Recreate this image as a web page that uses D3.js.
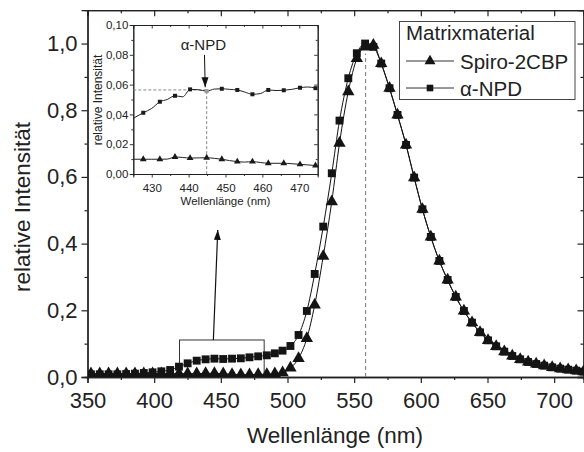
<!DOCTYPE html>
<html>
<head>
<meta charset="utf-8">
<script src="https://cdn.jsdelivr.net/npm/d3@7"></script>
<style>
body { margin: 0; background: #fff; }
text { font-family: "Liberation Sans", Arial, sans-serif; fill: #222; }
</style>
</head>
<body>
<script>
// main spectra (wavelength in nm, normalised intensity)
var wavelengths = [352.6, 359.2, 365.8, 372.4, 379.0, 385.6, 392.2, 398.8, 405.4, 412.0,
    418.6, 425.1, 431.9, 438.6, 445.2, 451.8, 458.4, 465.0, 471.5, 478.0,
    484.5, 490.5, 496.3, 502.2, 508.3, 514.5, 520.4, 526.8, 533.2, 539.0,
    545.6, 552.0, 558.2, 564.4, 570.3, 576.5, 582.5, 588.9, 595.0, 601.2,
    607.5, 613.9, 620.1, 626.2, 632.3, 638.4, 644.4, 650.4, 656.5, 662.6,
    668.6, 674.5, 680.5, 686.5, 692.5, 698.5, 704.5, 710.5, 716.5, 722.0];

var spiro2CBP = [0.010, 0.010, 0.010, 0.010, 0.010, 0.010, 0.010, 0.010, 0.010, 0.010,
    0.010, 0.010, 0.010, 0.011, 0.011, 0.010, 0.008, 0.007, 0.007, 0.008,
    0.008, 0.010, 0.013, 0.027, 0.056, 0.116, 0.216, 0.362, 0.526, 0.701,
    0.856, 0.955, 0.990, 0.995, 0.940, 0.866, 0.786, 0.696, 0.598, 0.503,
    0.420, 0.348, 0.291, 0.240, 0.198, 0.163, 0.134, 0.110, 0.092, 0.076,
    0.063, 0.053, 0.045, 0.039, 0.034, 0.029, 0.025, 0.022, 0.019, 0.016];

var alphaNPD = [0.008, 0.008, 0.008, 0.008, 0.009, 0.010, 0.012, 0.014, 0.017, 0.021,
    0.031, 0.041, 0.049, 0.053, 0.055, 0.054, 0.055, 0.056, 0.059, 0.062,
    0.065, 0.071, 0.079, 0.093, 0.126, 0.198, 0.309, 0.451, 0.611, 0.769,
    0.896, 0.971, 1.000, 0.990, 0.940, 0.866, 0.786, 0.696, 0.598, 0.503,
    0.420, 0.348, 0.291, 0.240, 0.198, 0.163, 0.134, 0.110, 0.092, 0.076,
    0.063, 0.053, 0.045, 0.039, 0.034, 0.029, 0.025, 0.022, 0.019, 0.016];

var xTicks = [350, 400, 450, 500, 550, 600, 650, 700];
var yTicks = [0, 0.2, 0.4, 0.6, 0.8, 1.0];

// inset 425-475 nm, markers on every second point
var insetWavelengths = [425.0, 427.7, 430.0, 432.2, 434.2, 436.3, 438.4, 440.4, 442.6, 444.9,
    447.0, 449.0, 451.1, 453.2, 455.2, 457.3, 459.5, 461.6, 463.7, 465.8,
    468.0, 470.2, 472.3, 474.4];
var insetNPD = [0.0374, 0.0411, 0.0440, 0.0485, 0.0500, 0.0525, 0.0518, 0.0568, 0.0566, 0.0556,
    0.0570, 0.0572, 0.0568, 0.0564, 0.0550, 0.0535, 0.0540, 0.0564, 0.0560, 0.0562,
    0.0568, 0.0579, 0.0584, 0.0576];
var insetSpiro = [0.0099, 0.0099, 0.0099, 0.0099, 0.0100, 0.0114, 0.0111, 0.0107, 0.0108, 0.0109,
    0.0105, 0.0099, 0.0090, 0.0083, 0.0080, 0.0083, 0.0077, 0.0072, 0.0072, 0.0072,
    0.0069, 0.0065, 0.0061, 0.0057];
var insetXTicks = [430, 440, 450, 460, 470];
var insetYTicks = [0, 0.02, 0.04, 0.06, 0.08, 0.10];

var width = 584, height = 452;

var svg = d3.select("body").append("svg")
    .attr("width", width)
    .attr("height", height);

var defs = svg.append("defs");
defs.append("clipPath").attr("id", "plotClip")
    .append("rect").attr("x", 88).attr("y", 10).attr("width", 496).attr("height", 367);
defs.append("marker")
    .attr("id", "arrow")
    .attr("viewBox", "0 0 10 10")
    .attr("refX", 10).attr("refY", 5)
    .attr("markerWidth", 10).attr("markerHeight", 10)
    .attr("markerUnits", "userSpaceOnUse")
    .attr("orient", "auto")
    .append("path").attr("d", "M0,1.5L10,5L0,8.5Z").attr("fill", "#111");

var x = d3.scaleLinear().domain([350, 722]).range([87.5, 583.5]);
var y = d3.scaleLinear().domain([0, 1.1]).range([377, 10.2]);

var comma = function (f) { return function (d) { return d3.format(f)(d).replace(".", ","); }; };

// minor ticks first
svg.append("g").attr("class", "axis")
    .attr("transform", "translate(0,377)")
    .call(d3.axisBottom(x).tickValues(d3.range(375, 722, 50)).tickSize(3).tickFormat(""));
svg.append("g").attr("class", "axis")
    .attr("transform", "translate(87.5,0)")
    .call(d3.axisLeft(y).tickValues([0.1, 0.3, 0.5, 0.7, 0.9]).tickSize(3).tickFormat(""));
svg.append("g").attr("class", "axis")
    .attr("transform", "translate(0,10.2)")
    .call(d3.axisBottom(x).tickValues(d3.range(375, 722, 50)).tickSize(3).tickFormat(""));
svg.append("g").attr("class", "axis")
    .attr("transform", "translate(583.5,0)")
    .call(d3.axisLeft(y).tickValues([0.1, 0.3, 0.5, 0.7, 0.9]).tickSize(3).tickFormat(""));

// major ticks
svg.append("g").attr("class", "axis xmain")
    .attr("transform", "translate(0,377)")
    .call(d3.axisBottom(x).tickValues(xTicks).tickSize(6).tickPadding(9).tickFormat(d3.format("d")));
svg.append("g").attr("class", "axis ymain")
    .attr("transform", "translate(87.5,0)")
    .call(d3.axisLeft(y).tickValues(yTicks).tickSize(6).tickPadding(4).tickFormat(comma(".1f")));
svg.append("g").attr("class", "axis")
    .attr("transform", "translate(0,10.2)")
    .call(d3.axisBottom(x).tickValues(xTicks).tickSize(6).tickFormat(""));
svg.append("g").attr("class", "axis")
    .attr("transform", "translate(583.5,0)")
    .call(d3.axisLeft(y).tickValues(yTicks).tickSize(6).tickFormat(""));

svg.selectAll(".axis .domain").attr("stroke", "#222").attr("stroke-width", 1.3);
svg.selectAll(".axis .tick line").attr("stroke", "#222").attr("stroke-width", 1.2);
svg.selectAll(".xmain text, .ymain text")
    .style("font-size", "22px").attr("fill", "#222")
    .style("font-family", "'Liberation Sans', Arial, sans-serif");

// axis titles
svg.append("text")
    .attr("transform", "translate(30,207) rotate(-90)")
    .attr("text-anchor", "middle")
    .style("font-size", "22.5px")
    .text("relative Intensität");
svg.append("text")
    .attr("x", 335).attr("y", 443)
    .attr("text-anchor", "middle")
    .style("font-size", "22.5px")
    .text("Wellenlänge (nm)");

// peak marker line
svg.append("line")
    .attr("x1", x(558.6)).attr("x2", x(558.6))
    .attr("y1", y(0)).attr("y2", y(0.97))
    .attr("stroke", "#777").attr("stroke-width", 1)
    .attr("stroke-dasharray", "4,3");

// zoom box and arrow
svg.append("rect")
    .attr("x", x(419)).attr("y", y(0.111))
    .attr("width", x(482.5) - x(419)).attr("height", y(0) - y(0.111))
    .attr("fill", "none").attr("stroke", "#333").attr("stroke-width", 1);
svg.append("line")
    .attr("x1", x(444.4)).attr("y1", y(0.111))
    .attr("x2", x(447.7)).attr("y2", y(0.441))
    .attr("stroke", "#111").attr("stroke-width", 1.2)
    .attr("marker-end", "url(#arrow)");

// curves
var plot = svg.append("g").attr("clip-path", "url(#plotClip)");
var mainLine = d3.line()
    .x(function (d) { return x(d[0]); })
    .y(function (d) { return y(d[1]); })
    .curve(d3.curveMonotoneX);

var spiroData = wavelengths.map(function (w, i) { return [w, spiro2CBP[i]]; });
var npdData = wavelengths.map(function (w, i) { return [w, alphaNPD[i]]; });

plot.append("path").datum(spiroData).attr("d", mainLine)
    .attr("fill", "none").attr("stroke", "#111").attr("stroke-width", 1);
plot.append("path").datum(npdData).attr("d", mainLine)
    .attr("fill", "none").attr("stroke", "#111").attr("stroke-width", 1);

var sq = d3.symbol().type(d3.symbolSquare).size(62);
var tri = d3.symbol().type(d3.symbolTriangle).size(66);

plot.selectAll(".npd").data(npdData).enter().append("path")
    .attr("class", "npd")
    .attr("d", sq)
    .attr("transform", function (d) { return "translate(" + x(d[0]) + "," + y(d[1]) + ")"; })
    .attr("fill", "#141414");
plot.selectAll(".spiro").data(spiroData).enter().append("path")
    .attr("class", "spiro")
    .attr("d", tri)
    .attr("transform", function (d) { return "translate(" + x(d[0]) + "," + y(d[1]) + ")"; })
    .attr("fill", "#141414");

// legend
var legend = svg.append("g");
legend.append("rect")
    .attr("x", 399.5).attr("y", 21.5).attr("width", 175.5).attr("height", 78)
    .attr("fill", "#fff").attr("stroke", "#444").attr("stroke-width", 1);
legend.append("text").attr("x", 406).attr("y", 39.5)
    .style("font-size", "20.5px").text("Matrixmaterial");
var legendItems = [
    { name: "Spiro-2CBP", sym: d3.symbol().type(d3.symbolTriangle).size(52), y: 61 },
    { name: "\u03b1-NPD", sym: d3.symbol().type(d3.symbolSquare).size(44), y: 88 }
];
legendItems.forEach(function (it) {
    legend.append("line").attr("x1", 406).attr("x2", 454)
        .attr("y1", it.y).attr("y2", it.y)
        .attr("stroke", "#333").attr("stroke-width", 1);
    legend.append("path").attr("d", it.sym())
        .attr("transform", "translate(430," + it.y + ")").attr("fill", "#141414");
    legend.append("text").attr("x", 460).attr("y", it.y + 7.5)
        .style("font-size", "20.5px").text(it.name);
});

// ---------- inset ----------
var ix = d3.scaleLinear().domain([425, 475]).range([133.3, 317.7]);
var iy = d3.scaleLinear().domain([0, 0.1]).range([174, 25]);

var inset = svg.append("g");
inset.append("rect")
    .attr("x", 133.3).attr("y", 25).attr("width", 184.4).attr("height", 149)
    .attr("fill", "#fff");

inset.append("g").attr("class", "iaxis").attr("transform", "translate(0,174)")
    .call(d3.axisBottom(ix).tickValues([435, 445, 455, 465]).tickSize(2).tickFormat(""));
inset.append("g").attr("class", "iaxis").attr("transform", "translate(133.3,0)")
    .call(d3.axisLeft(iy).tickValues([0.01, 0.03, 0.05, 0.07, 0.09]).tickSize(2).tickFormat(""));
inset.append("g").attr("class", "iaxis").attr("transform", "translate(0,25)")
    .call(d3.axisBottom(ix).tickValues([435, 445, 455, 465]).tickSize(2).tickFormat(""));
inset.append("g").attr("class", "iaxis").attr("transform", "translate(317.7,0)")
    .call(d3.axisLeft(iy).tickValues([0.01, 0.03, 0.05, 0.07, 0.09]).tickSize(2).tickFormat(""));

inset.append("g").attr("class", "iaxis ilab").attr("transform", "translate(0,174)")
    .call(d3.axisBottom(ix).tickValues(insetXTicks).tickSize(3.5).tickPadding(6).tickFormat(d3.format("d")));
inset.append("g").attr("class", "iaxis ilab").attr("transform", "translate(133.3,0)")
    .call(d3.axisLeft(iy).tickValues(insetYTicks).tickSize(3.5).tickPadding(1.5).tickFormat(comma(".2f")));
inset.append("g").attr("class", "iaxis").attr("transform", "translate(0,25)")
    .call(d3.axisBottom(ix).tickValues(insetXTicks).tickSize(3.5).tickFormat(""));
inset.append("g").attr("class", "iaxis").attr("transform", "translate(317.7,0)")
    .call(d3.axisLeft(iy).tickValues(insetYTicks).tickSize(3.5).tickFormat(""));

inset.selectAll(".iaxis .domain").attr("stroke", "#222").attr("stroke-width", 1);
inset.selectAll(".iaxis .tick line").attr("stroke", "#222").attr("stroke-width", 0.9);
inset.selectAll(".ilab text")
    .style("font-size", "11.5px").attr("fill", "#333")
    .style("font-family", "'Liberation Sans', Arial, sans-serif");

inset.append("text")
    .attr("transform", "translate(101.5,100) rotate(-90)")
    .attr("text-anchor", "middle")
    .style("font-size", "12px").attr("fill", "#333")
    .text("relative Intensität");
inset.append("text")
    .attr("x", 225.5).attr("y", 205)
    .attr("text-anchor", "middle")
    .style("font-size", "11.5px").attr("fill", "#333")
    .text("Wellenlänge (nm)");

// guide lines to the highlighted point
inset.append("line")
    .attr("x1", ix(425)).attr("x2", ix(444.9))
    .attr("y1", iy(0.0564)).attr("y2", iy(0.0564))
    .attr("stroke", "#888").attr("stroke-width", 1).attr("stroke-dasharray", "3,2");
inset.append("line")
    .attr("x1", ix(444.9)).attr("x2", ix(444.9))
    .attr("y1", iy(0.0556)).attr("y2", iy(0))
    .attr("stroke", "#888").attr("stroke-width", 1).attr("stroke-dasharray", "3,2");

var insetLine = d3.line()
    .x(function (d) { return ix(d[0]); })
    .y(function (d) { return iy(d[1]); })
    .curve(d3.curveMonotoneX);
var iNpd = insetWavelengths.map(function (w, i) { return [w, insetNPD[i], i]; });
var iSpiro = insetWavelengths.map(function (w, i) { return [w, insetSpiro[i], i]; });

[iNpd, iSpiro].forEach(function (ser) {
    inset.append("path").datum(ser).attr("d", insetLine)
        .attr("fill", "none").attr("stroke", "#222").attr("stroke-width", 1);
});

var isq = d3.symbol().type(d3.symbolSquare).size(16);
var itri = d3.symbol().type(d3.symbolTriangle).size(20);
inset.selectAll(".inpd").data(iNpd.filter(function (d) { return d[2] % 2 === 1; })).enter()
    .append("path").attr("class", "inpd")
    .attr("d", isq)
    .attr("transform", function (d) { return "translate(" + ix(d[0]) + "," + iy(d[1]) + ")"; })
    .attr("fill", function (d) { return d[2] === 9 ? "#999" : "#1a1a1a"; });
inset.selectAll(".ispiro").data(iSpiro.filter(function (d) { return d[2] % 2 === 1; })).enter()
    .append("path").attr("class", "ispiro")
    .attr("d", itri)
    .attr("transform", function (d) { return "translate(" + ix(d[0]) + "," + iy(d[1]) + ")"; })
    .attr("fill", "#1a1a1a");

inset.append("text")
    .attr("x", ix(444.0)).attr("y", iy(0.0835))
    .attr("text-anchor", "middle")
    .style("font-size", "15px").attr("fill", "#222")
    .text("\u03b1-NPD");
inset.append("line")
    .attr("x1", ix(444.3)).attr("y1", iy(0.0799))
    .attr("x2", ix(444.5)).attr("y2", iy(0.0582))
    .attr("stroke", "#111").attr("stroke-width", 1)
    .attr("marker-end", "url(#arrow)");
</script>
</body>
</html>
